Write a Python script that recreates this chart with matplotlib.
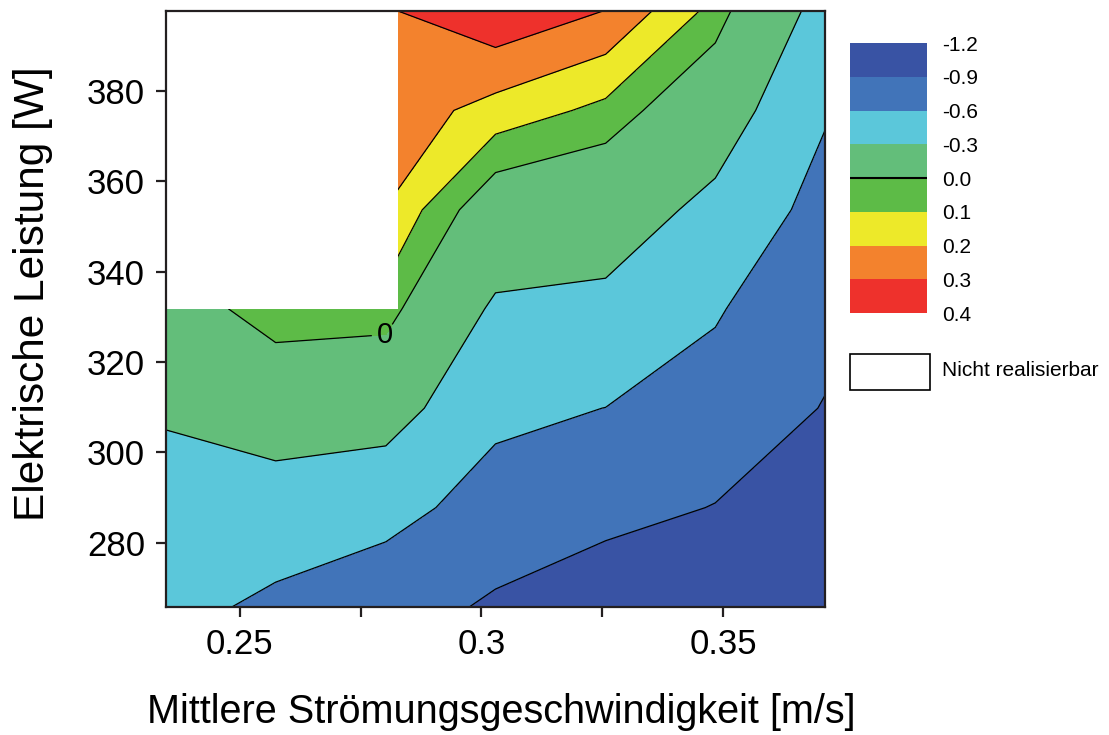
import numpy as np
import matplotlib
matplotlib.use("Agg")
import matplotlib.pyplot as plt
from matplotlib.patches import Rectangle

plt.rcParams['font.family'] = ['Liberation Sans', 'DejaVu Sans']
plt.rcParams['contour.negative_linestyle'] = 'solid'

# grid of the study (velocity [m/s] x electrical power [W])
velocity = [0.2347, 0.2574, 0.2802, 0.3029, 0.3257, 0.3484, 0.3711]
power = [265.8, 287.8, 309.8, 331.8, 353.7, 375.7, 397.7]

# values per power row (bottom to top), nan = not feasible
row_265 = [-0.54, -0.64, -0.76, -0.944, -1.10, -1.12, -1.18]
row_288 = [-0.45, -0.48, -0.516, -0.70, -0.80, -0.91, -1.02]
row_310 = [-0.258, -0.097, -0.168, -0.544, -0.602, -0.70, -0.914]
row_332 = [-0.066, 0.05, 0.059, -0.339, -0.368, -0.577, -0.806]
row_354 = [np.nan, np.nan, 0.198, -0.097, -0.148, -0.375, -0.70]
row_376 = [np.nan, np.nan, 0.262, 0.162, 0.073, -0.14, -0.575]
row_398 = [np.nan, np.nan, 0.29, 0.38, 0.298, 0.066, -0.40]

levels = [-1.2, -0.9, -0.6, -0.3, 0.0, 0.1, 0.2, 0.3, 0.4]
level_labels = ["-1.2", "-0.9", "-0.6", "-0.3", "0.0", "0.1", "0.2", "0.3", "0.4"]
colors = ["#3953a4", "#4174b9", "#5bc7da", "#63be7a",
          "#5dbb47", "#ede929", "#f3822d", "#ee312c"]

# not feasible region (upper left)
nf_x = [0.2347, 0.2827]
nf_y = [331.8, 397.7]

Z = np.array([row_265, row_288, row_310, row_332, row_354, row_376, row_398])
X, Y = np.meshgrid(velocity, power)

fig = plt.figure(figsize=(11.09, 7.35), dpi=100)
ax = fig.add_axes([166/1109, 1-607/735, 659/1109, 596/735])

cf = ax.contourf(X, Y, Z, levels=levels, colors=colors)
other = [v for v in levels if v != 0.0]
ax.contour(X, Y, Z, levels=other, colors='k', linewidths=0.9)
cs0 = ax.contour(X, Y, Z, levels=[0.0], colors='k', linewidths=0.9)
lbls = ax.clabel(cs0, fmt=lambda v: f"{v:g}", fontsize=21,
                 inline=True, manual=[(0.2800, 326.0)])
for t in lbls:
    t.set_rotation(0)

ax.add_patch(Rectangle((nf_x[0], nf_y[0]), nf_x[1]-nf_x[0], nf_y[1]-nf_y[0],
                       facecolor='white', edgecolor='none', zorder=2.2))

ax.set_xlim(velocity[0], velocity[-1])
ax.set_ylim(power[0], power[-1])
ax.set_xticks([0.25, 0.275, 0.3, 0.325, 0.35])
ax.set_xticklabels(["0.25", "", "0.3", "", "0.35"])
ax.set_yticks([280, 300, 320, 340, 360, 380])
ax.tick_params(labelsize=25, length=7, width=1.6, pad=8, color='#231f20')
for sp in ax.spines.values():
    sp.set_linewidth(1.6)
    sp.set_color('#231f20')

fig.text(501/1109, 1-712/735, "Mittlere Strömungsgeschwindigkeit [m/s]",
         ha='center', va='center', fontsize=28.5)
fig.text(33/1109, 1-294/735, "Elektrische Leistung [W]", rotation=90,
         ha='center', va='center', fontsize=30.5)

# legend as colorbar
cax = fig.add_axes([850/1109, 1-313/735, 77/1109, 270/735])
cbar = fig.colorbar(cf, cax=cax, spacing='uniform', ticks=levels)
cbar.set_ticklabels(level_labels)
cbar.outline.set_visible(False)
cbar.add_lines([0.0], ['k'], [1.5], erase=False)
cax.invert_yaxis()
cax.tick_params(length=0, labelsize=15, pad=11)

fig.patches.append(Rectangle((850/1109, 1-390/735), 80/1109, 36/735,
                             transform=fig.transFigure, facecolor='white',
                             edgecolor='k', linewidth=1.2))
fig.text(942/1109, 1-371/735, "Nicht realisierbar", ha='left', va='center',
         fontsize=15)

fig.savefig("out.png", dpi=100)
